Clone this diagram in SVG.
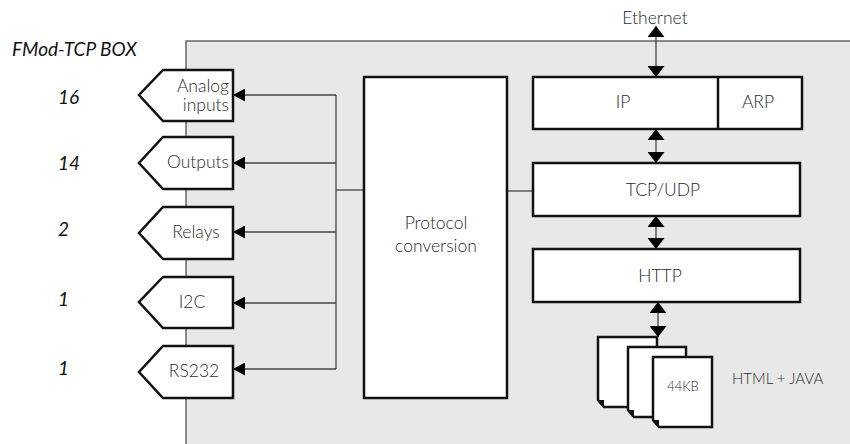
<svg xmlns="http://www.w3.org/2000/svg" width="850" height="444" viewBox="0 0 850 444">
<style>
text{font-family:Lato,"Open Sans","Liberation Sans",sans-serif;fill:#2a2a2a;font-weight:300}
.t{font-size:17.5px}
.s{font-size:13px}
.m{font-size:15px}
.it{font-style:italic;font-size:19px;fill:#111;font-weight:400}
.box{fill:#fff;stroke:#111;stroke-width:2.5}
.pent{fill:#fff;stroke:#111;stroke-width:2.5;stroke-linejoin:miter}
.ln{fill:none;stroke:#444;stroke-width:1.3}
.doc{fill:#fff;stroke:#111;stroke-width:2.5;stroke-linejoin:miter}
</style>
<defs>
<marker id="al" viewBox="0 0 10 10" refX="10" refY="5" markerWidth="12" markerHeight="13" markerUnits="userSpaceOnUse" orient="auto" preserveAspectRatio="none"><path d="M0,0 L10,5 L0,10 Z" fill="#000"/></marker>
<marker id="av" viewBox="0 0 10 10" refX="10" refY="5" markerWidth="11" markerHeight="17" markerUnits="userSpaceOnUse" orient="auto-start-reverse" preserveAspectRatio="none"><path d="M0,0 L10,5 L0,10 Z" fill="#000"/></marker>
</defs>
<rect x="186" y="41" width="700" height="440" fill="#e8e8e8" stroke="#666" stroke-width="1.5"/>
<text class="it" x="12" y="56">FMod-TCP BOX</text>
<text class="it" x="58" y="104">16</text>
<text class="it" x="58" y="170">14</text>
<text class="it" x="58" y="236">2</text>
<text class="it" x="58" y="306">1</text>
<text class="it" x="58" y="375">1</text>
<text class="t" x="655" y="24" text-anchor="middle">Ethernet</text>
<g id="connectors">
<path class="ln" d="M336,95 V369"/>
<path class="ln" d="M336,95 H233" marker-end="url(#al)"/>
<path class="ln" d="M336,163 H233" marker-end="url(#al)"/>
<path class="ln" d="M336,232 H233" marker-end="url(#al)"/>
<path class="ln" d="M336,303 H233" marker-end="url(#al)"/>
<path class="ln" d="M336,369 H233" marker-end="url(#al)"/>
<path class="ln" d="M336,190 H364"/>
<path class="ln" d="M507,191 H533"/>
<path class="ln" d="M656,26 V77" marker-start="url(#av)" marker-end="url(#av)"/>
<path class="ln" d="M656,129 V163" marker-start="url(#av)" marker-end="url(#av)"/>
<path class="ln" d="M656,216 V249" marker-start="url(#av)" marker-end="url(#av)"/>
<path class="ln" d="M658,302 V337" marker-start="url(#av)" marker-end="url(#av)"/>
</g>
<g id="analog">
<path class="pent" d="M233,70 H163 L139,95 L163,121 H233 Z"/>
<text class="t" x="229" y="92" text-anchor="end">Analog</text>
<text class="t" x="229" y="111" text-anchor="end">inputs</text>
</g>
<g id="outputs">
<path class="pent" d="M233,137 H163 L139,163 L163,189 H233 Z"/>
<text class="t" x="229" y="168" text-anchor="end">Outputs</text>
</g>
<g id="relays">
<path class="pent" d="M233,207 H163 L139,233 L163,259 H233 Z"/>
<text class="t" x="196" y="238" text-anchor="middle">Relays</text>
</g>
<g id="i2c">
<path class="pent" d="M233,277 H163 L139,302 L163,328 H233 Z"/>
<text class="t" x="192" y="308" text-anchor="middle">I2C</text>
</g>
<g id="rs232">
<path class="pent" d="M233,346 H163 L139,372 L163,398 H233 Z"/>
<text class="t" x="194" y="377" text-anchor="middle">RS232</text>
</g>
<g id="protocol">
<rect class="box" x="364" y="77" width="143" height="321"/>
<text class="t" x="436" y="229" text-anchor="middle">Protocol</text>
<text class="t" x="436" y="252" text-anchor="middle">conversion</text>
</g>
<g id="ip">
<rect class="box" x="533" y="77" width="269" height="52"/>
<line x1="718" y1="77" x2="718" y2="129" stroke="#111" stroke-width="2.5"/>
<text class="t" x="623" y="108" text-anchor="middle">IP</text>
<text class="t" x="758" y="108" text-anchor="middle">ARP</text>
</g>
<g id="tcpudp">
<rect class="box" x="533" y="163" width="267" height="53"/>
<text class="t" x="663" y="196" text-anchor="middle">TCP/UDP</text>
</g>
<g id="http">
<rect class="box" x="533" y="249" width="267" height="53"/>
<text class="t" x="660" y="282" text-anchor="middle">HTTP</text>
</g>
<g id="docs">
<path class="doc" d="M598,337 H657 V407 H604 L598,400 Z"/>
<path d="M598,400 L604,400 L604,407 Z" fill="#111"/>
<path class="doc" d="M628,347 H686 V417 H634 L628,410 Z"/>
<path d="M628,410 L634,410 L634,417 Z" fill="#111"/>
<path class="doc" d="M653,357 H712 V427 H659 L653,420 Z"/>
<path d="M653,420 L659,420 L659,427 Z" fill="#111"/>
<text class="s" x="683" y="391" text-anchor="middle">44KB</text>
<text class="m" x="732" y="384">HTML + JAVA</text>
</g>
</svg>
